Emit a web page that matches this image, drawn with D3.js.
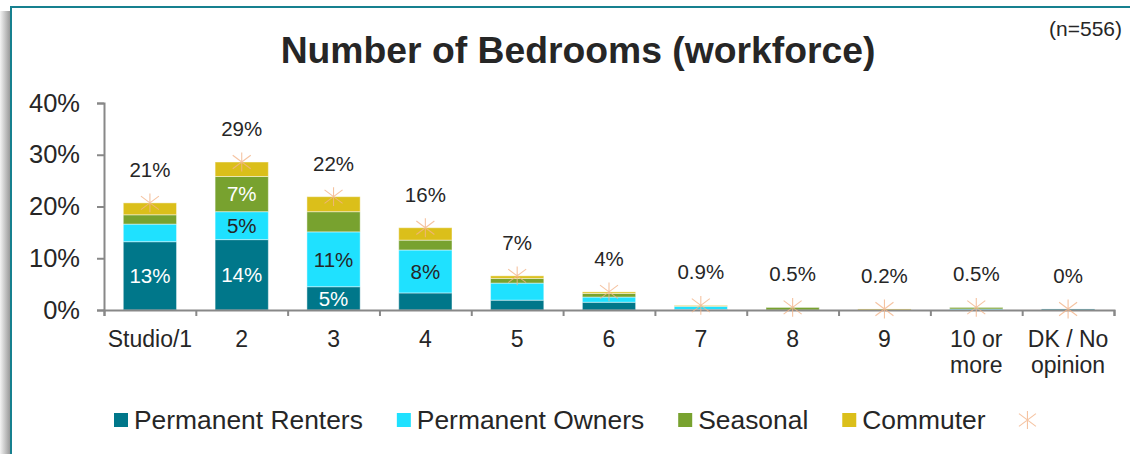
<!DOCTYPE html>
<html>
<head>
<meta charset="utf-8">
<script src="https://cdn.jsdelivr.net/npm/d3@7"></script>
<style>
  body { margin: 0; background: #fff; }
  text { font-family: "Liberation Sans", Arial, sans-serif; fill: #262626; }
</style>
</head>
<body>
<div id="chart"></div>
<script>
// data (percent of respondents)
var categories = ["Studio/1", "2", "3", "4", "5", "6", "7", "8", "9", "10 or\nmore", "DK / No\nopinion"];
var renters  = [13.2, 13.6, 4.5, 3.3, 1.9, 1.5, 0.1, 0, 0, 0, 0.2];
var owners   = [3.4, 5.4, 10.6, 8.3, 3.3, 1.0, 0.6, 0, 0, 0.2, 0];
var seasonal = [1.8, 6.8, 3.9, 1.9, 0.9, 0.7, 0.1, 0.5, 0, 0.3, 0];
var commuter = [2.3, 2.8, 2.9, 2.4, 0.5, 0.3, 0.1, 0, 0.2, 0, 0];
var totalLabels = ["21%", "29%", "22%", "16%", "7%", "4%", "0.9%", "0.5%", "0.2%", "0.5%", "0%"];
var seriesNames = ["Permanent Renters", "Permanent Owners", "Seasonal", "Commuter"];
var yTicks = [0, 10, 20, 30, 40];

var colors = ["#00778a", "#1fe1ff", "#78a22f", "#dbbf1a"];
var labelColors = ["#ffffff", "#262626", "#ffffff", "#262626"];
var starColor = "#f2b48a";

var W = 1131, H = 454;
var svg = d3.select("#chart").append("svg")
    .attr("width", W)
    .attr("height", H);

// frame with shadow on the left
var grad = svg.append("defs").append("linearGradient")
    .attr("id", "shadow").attr("x1", "0").attr("x2", "1");
grad.append("stop").attr("offset", "0").attr("stop-color", "#f4f4f4");
grad.append("stop").attr("offset", "1").attr("stop-color", "#9a9a9a");
svg.append("rect").attr("x", 0).attr("y", 11).attr("width", 10).attr("height", H - 11)
    .attr("fill", "url(#shadow)");
svg.append("rect").attr("x", 10).attr("y", 6).attr("width", W - 10).attr("height", H - 6)
    .attr("fill", "#fff");
svg.append("line").attr("x1", 11).attr("x2", 11).attr("y1", 6).attr("y2", H)
    .attr("stroke", "#17808f").attr("stroke-width", 2);
svg.append("line").attr("x1", 10).attr("x2", W - 1).attr("y1", 7).attr("y2", 7)
    .attr("stroke", "#17808f").attr("stroke-width", 2);

// title and sample size
svg.append("text")
    .attr("x", 578).attr("y", 63)
    .attr("text-anchor", "middle")
    .style("font-size", "37.3px").style("font-weight", "bold")
    .text("Number of Bedrooms (workforce)");
svg.append("text")
    .attr("x", 1122).attr("y", 36)
    .attr("text-anchor", "end")
    .style("font-size", "21px")
    .text("(n=556)");

// scales
var x0 = 104, x1 = 1114, yBase = 310, yTop = 103;
var x = d3.scaleBand()
    .domain(categories)
    .range([x0, x1])
    .paddingInner(0.42)
    .paddingOuter(0.21);
var y = d3.scaleLinear()
    .domain([0, 40])
    .range([yBase, yTop]);

// stacked data
var table = categories.map(function(c, i) {
    return { cat: c, s0: renters[i], s1: owners[i], s2: seasonal[i], s3: commuter[i] };
});
var keys = ["s0", "s1", "s2", "s3"];
var stacked = d3.stack().keys(keys)(table);

// y axis
var yAxis = svg.append("g")
    .attr("transform", "translate(" + x0 + ",0)")
    .call(d3.axisLeft(y).tickValues(yTicks).tickSize(7).tickPadding(17)
        .tickFormat(function(d) { return d + "%"; }));
yAxis.select(".domain").attr("stroke", "#888").attr("stroke-width", 2);
yAxis.selectAll(".tick line").attr("stroke", "#888").attr("stroke-width", 2);
yAxis.selectAll(".tick text")
    .style("font-size", "25.5px").attr("fill", "#262626")
    .style("font-family", "'Liberation Sans', Arial, sans-serif");

// bars
var layers = svg.selectAll(".layer")
    .data(stacked)
    .enter().append("g")
    .attr("class", "layer")
    .attr("fill", function(d, i) { return colors[i]; });
layers.selectAll("rect")
    .data(function(d) { return d; })
    .enter().append("rect")
    .attr("x", function(d) { return x(d.data.cat); })
    .attr("width", x.bandwidth())
    .attr("y", function(d) { return y(d[1]); })
    .attr("height", function(d) { return y(d[0]) - y(d[1]); })
    .attr("stroke", "rgba(255,255,255,0.45)")
    .attr("stroke-width", 1);

// labels inside big segments
layers.each(function(layer, li) {
    d3.select(this).selectAll("text")
        .data(layer.filter(function(d) { return d[1] - d[0] >= 4.4; }))
        .enter().append("text")
        .attr("x", function(d) { return x(d.data.cat) + x.bandwidth() / 2; })
        .attr("y", function(d) { return (y(d[0]) + y(d[1])) / 2; })
        .attr("dy", "0.36em")
        .attr("text-anchor", "middle")
        .style("font-size", "20.5px")
        .style("fill", labelColors[li])
        .text(function(d) { return Math.round(d[1] - d[0]) + "%"; });
});

// x axis: separators via a linear scale over the band edges
var edge = d3.scaleLinear().domain([0, categories.length]).range([x0, x1]);
var xAxis = svg.append("g")
    .attr("transform", "translate(0," + yBase + ")")
    .call(d3.axisBottom(edge).ticks(categories.length).tickSize(6).tickFormat(""));
xAxis.select(".domain").attr("stroke", "#888").attr("stroke-width", 2);
xAxis.selectAll(".tick line").attr("stroke", "#888").attr("stroke-width", 2);

// category labels
var catLabels = svg.append("g").selectAll("text")
    .data(categories)
    .enter().append("text")
    .attr("x", function(d) { return x(d) + x.bandwidth() / 2; })
    .attr("y", 347)
    .attr("text-anchor", "middle")
    .style("font-size", "23px");
catLabels.selectAll("tspan")
    .data(function(d) { return d.split("\n"); })
    .enter().append("tspan")
    .attr("x", function() { var p = this.parentNode.__data__; return x(p) + x.bandwidth() / 2; })
    .attr("dy", function(d, i) { return i === 0 ? 0 : 26; })
    .text(function(d) { return d; });

// star markers at totals
function starPath(r) {
    var a = r, b = r * 0.75;
    return "M0," + (-r * 1.05) + "L0," + (r * 1.05) +
        "M" + (-a) + "," + (-b) + "L" + a + "," + b +
        "M" + (-a) + "," + b + "L" + a + "," + (-b);
}
var totals = table.map(function(d) { return d.s0 + d.s1 + d.s2 + d.s3; });
svg.append("g").selectAll("path")
    .data(totals)
    .enter().append("path")
    .attr("d", starPath(9))
    .attr("transform", function(d, i) {
        return "translate(" + (x(categories[i]) + x.bandwidth() / 2) + "," + y(d) + ")";
    })
    .attr("fill", "none")
    .attr("stroke", starColor)
    .attr("stroke-width", 1.1)
    .attr("opacity", 0.8);

// total labels above bars
svg.append("g").selectAll("text")
    .data(totals)
    .enter().append("text")
    .attr("x", function(d, i) { return x(categories[i]) + x.bandwidth() / 2; })
    .attr("y", function(d) { return y(d) - 26; })
    .attr("text-anchor", "middle")
    .style("font-size", "20.5px")
    .text(function(d, i) { return totalLabels[i]; });

// legend
var legend = svg.append("g").attr("transform", "translate(0,420)");
var lx = 114;
seriesNames.forEach(function(name, i) {
    legend.append("rect")
        .attr("x", lx).attr("y", -7).attr("width", 14).attr("height", 14)
        .attr("fill", colors[i]);
    var t = legend.append("text")
        .attr("x", lx + 20).attr("y", 9)
        .style("font-size", "26.4px")
        .text(name);
    lx += 20 + t.node().getComputedTextLength() + 34;
});
legend.append("path")
    .attr("d", starPath(8.5))
    .attr("transform", "translate(" + (lx + 8) + ",0)")
    .attr("fill", "none")
    .attr("stroke", starColor)
    .attr("stroke-width", 1.1)
    .attr("opacity", 0.8);
</script>
</body>
</html>
